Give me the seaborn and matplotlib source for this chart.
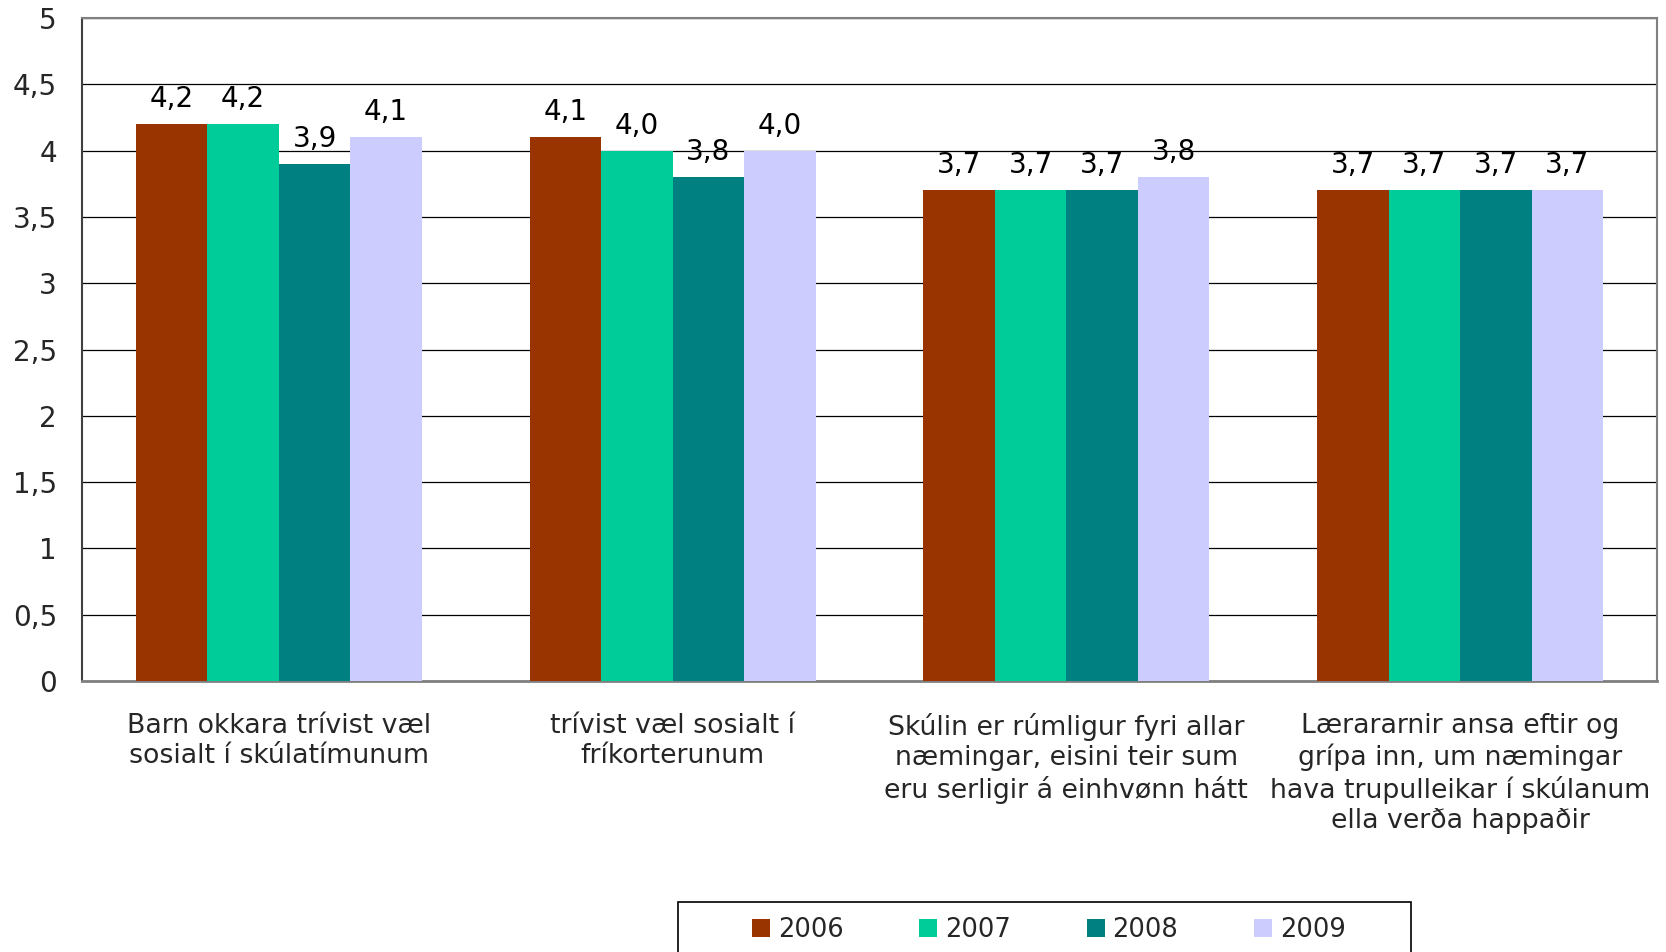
import matplotlib
matplotlib.use("Agg")
import matplotlib.pyplot as plt
import seaborn as sns
import pandas as pd
from matplotlib.patches import Patch, Rectangle

categories = [
    "Barn okkara trívist væl\nsosialt í skúlatímunum",
    "trívist væl sosialt í\nfríkorterunum",
    "Skúlin er rúmligur fyri allar\nnæmingar, eisini teir sum\neru serligir á einhvønn hátt",
    "Lærararnir ansa eftir og\ngrípa inn, um næmingar\nhava trupulleikar í skúlanum\nella verða happaðir",
]
years = ["2006", "2007", "2008", "2009"]
values_2006 = [4.2, 4.1, 3.7, 3.7]
values_2007 = [4.2, 4.0, 3.7, 3.7]
values_2008 = [3.9, 3.8, 3.7, 3.7]
values_2009 = [4.1, 4.0, 3.8, 3.7]
colors = ["#993300", "#00CC99", "#008080", "#CCCCFF"]
yticks = [0, 0.5, 1, 1.5, 2, 2.5, 3, 3.5, 4, 4.5, 5]
ytick_labels = ["0", "0,5", "1", "1,5", "2", "2,5", "3", "3,5", "4", "4,5", "5"]

series = [values_2006, values_2007, values_2008, values_2009]
rows = []
for y, vals in zip(years, series):
    for c, v in zip(categories, vals):
        rows.append({"cat": c, "year": y, "value": v})
df = pd.DataFrame(rows)

sns.set_theme(style="white")
plt.rcParams["font.family"] = ["DejaVu Sans"]

fig = plt.figure(figsize=(16.66, 9.52), dpi=100)
ax = fig.add_axes([0.0492, 0.2847, 0.9454, 0.6963])

sns.barplot(data=df, x="cat", y="value", hue="year", palette=colors,
            width=0.726, gap=0, saturation=1, ax=ax, legend=False,
            errorbar=None, zorder=3, linewidth=0)

for cont in ax.containers:
    ax.bar_label(cont, labels=[f"{b.get_height():.1f}".replace(".", ",") for b in cont],
                 padding=8, fontsize=20, color="black")

ax.set_ylim(0, 5)
ax.set_xlim(-0.5, 3.5)
ax.set_yticks(yticks)
ax.set_yticklabels(ytick_labels, fontsize=20)
ax.yaxis.grid(True, color="black", linewidth=0.9, zorder=0)
ax.set_axisbelow(True)

ax.set_xticks([0.5, 1.5, 2.5])
ax.set_xticklabels([])
ax.set_xticks(range(len(categories)), minor=True)
ax.set_xticklabels(categories, minor=True, fontsize=19.3, linespacing=1.22)
ax.tick_params(axis="x", which="major", direction="in", length=8, color="#555555", width=1)
ax.tick_params(axis="x", which="minor", length=0, pad=23)
ax.tick_params(axis="y", direction="out", length=8, color="#555555", width=1, pad=10)
ax.set_xlabel("")
ax.set_ylabel("")

for s in ["top", "right"]:
    ax.spines[s].set_color("#808080")
    ax.spines[s].set_linewidth(1.5)
ax.spines["left"].set_color("#404040")
ax.spines["left"].set_linewidth(1.5)
ax.spines["bottom"].set_color("#808080")
ax.spines["bottom"].set_linewidth(2)

fig.patches.append(Rectangle((0.407, -0.05), 0.44, 0.1025, transform=fig.transFigure,
                             fill=False, edgecolor="black", linewidth=1.2))
handles = [Patch(facecolor=c, edgecolor="none") for c in colors]
leg = fig.legend(handles, years, loc="center", bbox_to_anchor=(0.6296, 0.0235),
                 ncol=4, fontsize=18.5, frameon=False, handlelength=0.7, handleheight=0.7,
                 handletextpad=0.3, columnspacing=2.95, borderpad=0, borderaxespad=0)

fig.savefig("out.png", dpi=100)
